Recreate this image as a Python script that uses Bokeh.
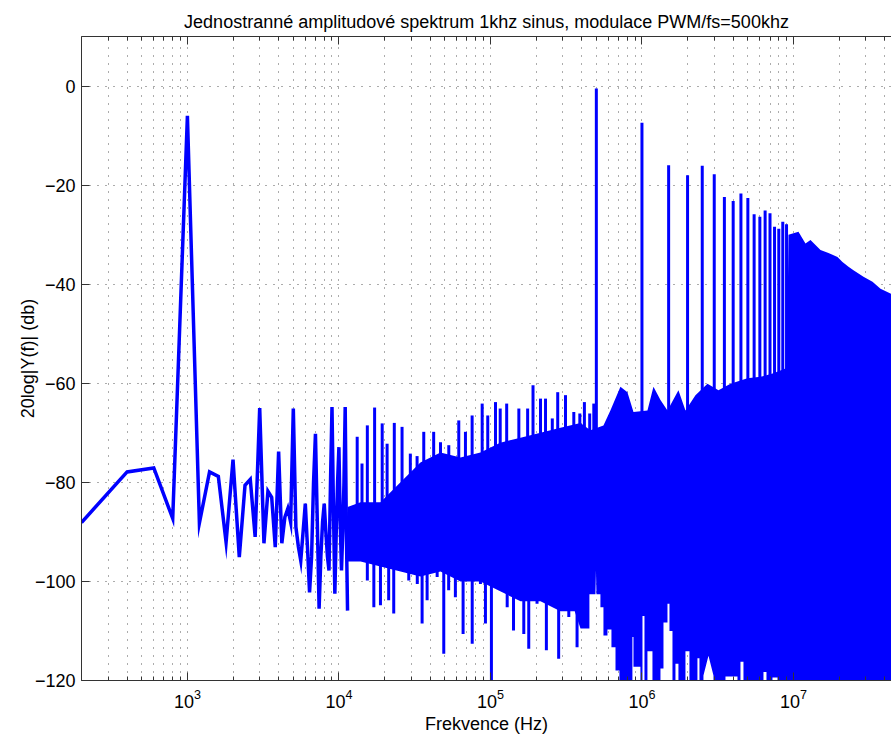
from bokeh.plotting import figure
from bokeh.models import Range1d, LinearAxis, FixedTicker, SingleIntervalTicker
from bokeh.embed import file_html
from bokeh.resources import INLINE

TITLE = "Jednostranné amplitudové spektrum 1khz sinus, modulace PWM/fs=500khz"
XLABEL = "Frekvence (Hz)"
YLABEL = "20log|Y(f)| (db)"

# low-frequency part of the spectrum (individual FFT bins, Hz / dB)
f_low = [200, 400, 600, 800, 1000, 1200, 1400, 1600, 1800, 2000,
         2200, 2400, 2600, 2800, 3000, 3200, 3400, 3600, 3800, 4000,
         4200, 4400, 4600, 4800, 5000, 5200, 5400, 5600, 5800, 6000,
         6200, 6400, 6600, 6800, 7000, 7200, 7400, 7600, 7800, 8000,
         8200, 8400, 8600, 8800, 9000, 9200, 9400, 9600, 9800, 10000,
         10200, 10400, 10600, 10800, 11000, 11200, 11400]
db_low = [-88.1, -77.9, -77.1, -87.3, -6.0, -88.2, -77.9, -78.8, -92.1, -75.4,
          -95.1, -80.6, -79.4, -91.0, -65.0, -92.3, -81.8, -83.0, -93.1, -73.8,
          -92.3, -87.0, -85.3, -88.0, -65.1, -89.0, -93.0, -95.8, -90.0, -84.3,
          -93.0, -102.2, -95.0, -80.0, -70.2, -88.0, -105.5, -95.0, -88.0, -84.3,
          -90.0, -95.0, -97.8, -80.0, -64.8, -85.0, -102.5, -90.0, -80.0, -72.9,
          -88.0, -97.8, -90.0, -80.0, -64.8, -90.0, -105.9]

# dense part: upper envelope of the densely packed bins
f_top = [11400, 13900, 18800, 25500, 34500, 46800, 63400, 85900, 116000, 158000,
         214000, 290000, 393000, 457000, 557000, 619000, 721000, 802000, 879000, 1087000,
         1191000, 1325000, 1474000, 1741000, 1937000, 2255000, 2706000, 3199000, 3839000, 4971000,
         6057000, 7379000, 8856000, 9062000, 9268000, 10790000, 12000000, 12950000, 15080000, 17020000,
         19520000, 21060000, 23070000, 24890000, 28970000, 33230000, 37530000, 44360000]
db_top = [-85, -84, -84, -80, -76, -74, -75, -74, -72, -71,
          -70, -69, -68, -69.5, -68.5, -65.5, -60.7, -61.8, -65.8, -65.5,
          -60.7, -63.4, -65.5, -61.4, -65.5, -62.4, -60.1, -61.4, -60.1, -59,
          -58.7, -58, -57, -57, -30, -29.4, -31.8, -31.1, -33.1, -33.7,
          -34.5, -35.5, -36.5, -37.2, -38.5, -39.5, -40.9, -42]

# dense part: lower envelope (white pockets above the -120 floor)
f_bot = [11400, 13900, 18800, 25500, 34500, 46800, 63400, 85900, 116000, 158000,
         214000, 290000, 360000, 393000, 450000, 450000, 493000, 497000, 501000, 532000,
         532000, 557000, 557000, 592000, 592000, 629000, 629000, 669000, 669000, 710000,
         710000, 865000, 865000, 879000, 879000, 977000, 977000, 1008000, 1008000, 1039000,
         1039000, 1087000, 1087000, 1173000, 1173000, 1325000, 1325000, 1387000, 1387000, 1474000,
         1474000, 1519000, 1519000, 1590000, 1590000, 1664000, 1664000, 1741000, 1741000, 1937000,
         1937000, 2058000, 2058000, 2324000, 2324000, 2396000, 2396000, 2546000, 2546000, 2748000,
         2965000, 2965000, 3558000, 3558000, 4270000, 4270000, 4469000, 4469000, 4677000, 4677000,
         6339000, 6339000, 6635000, 6635000, 7268000, 7268000, 7843000, 7843000, 44360000]
db_bot = [-96, -96, -97, -98, -99, -98, -100, -100, -102, -104,
          -104, -106, -106, -109.5, -109.5, -102.6, -102.6, -97.8, -102.6, -102.6,
          -105.2, -105.2, -110.9, -110.9, -109.7, -109.7, -113.3, -113.3, -118, -118,
          -120, -120, -111.2, -111.2, -117.2, -117.2, -120, -120, -107, -107,
          -120, -120, -114.1, -114.1, -120, -120, -117.6, -117.6, -108.3, -108.3,
          -104.5, -104.5, -110, -110, -120, -120, -116.6, -116.6, -120, -120,
          -114.1, -114.1, -120, -120, -115.5, -115.5, -120, -120, -119, -115,
          -119, -120, -120, -119.2, -119.2, -120, -120, -116.2, -116.2, -120,
          -120, -118.3, -118.3, -120, -120, -119.4, -119.4, -120, -120]

# isolated upward peaks in the dense part
f_peaks = [13200, 14200, 15400, 17200, 19300, 20800, 23200, 26100, 29600, 32800,
           36300, 42200, 46800, 53100, 61800, 68400, 75700, 88200, 96000, 108000,
           116000, 128000, 139000, 154000, 176000, 191000, 214000, 231000, 256000, 278000,
           313000, 355000, 389000, 417000, 452000, 481000]
db_peaks = [-70.8, -76.2, -68.5, -64.9, -68.1, -72.2, -68.0, -68.8, -74.2, -74.7,
            -69.8, -69.8, -71.9, -72.5, -67.5, -69.8, -66.5, -64.1, -66.5, -63.8,
            -65.1, -64.1, -71.5, -65.1, -65.1, -60.4, -63.1, -63.1, -67.1, -61.8,
            -62.4, -65.8, -66.1, -63.8, -66.1, -64.1]

# isolated downward dips in the dense part
f_dips = [13100, 15400, 17000, 18800, 21300, 23000, 26100, 28900, 32900, 35400,
          38200, 44500, 49200, 53000, 58700, 66000, 75800, 85900, 92700, 101500,
          113000, 129000, 142000, 166000, 179000, 203000, 234000, 282000, 329000, 373000]
db_dips = [-95.8, -99.8, -105.2, -104.8, -103.8, -106.5, -96.8, -99.8, -100.5, -108.5,
           -103.8, -99.1, -114.6, -101.8, -103.2, -110.6, -112.6, -100.5, -108.5, -120,
           -101.1, -105.2, -109.9, -110.6, -113.6, -104.5, -113.9, -115.6, -107.2, -113.3]

# PWM carrier harmonics
f_harm = [500000, 1000000, 1500000, 2000000, 2500000, 3000000, 3500000, 4000000, 4500000,
          5000000, 5500000, 6000000, 6500000, 7000000, 7500000, 8000000, 8500000, 9000000]
db_harm = [-0.5, -7.4, -16.0, -18.0, -16.1, -17.8, -22.4, -23.2, -21.7,
           -22.6, -25.9, -26.4, -25.1, -25.7, -28.4, -28.8, -27.4, -27.9]

x_major = [1e3, 1e4, 1e5, 1e6, 1e7]
X_MIN, X_MAX = 200, 44360000
Y_MIN, Y_MAX = -120, 10

BLUE = "#0000ff"
FONT = "Liberation Sans"
FS = "18px"
MID_UP = -94     # lower edge of the upper fill (overlaps the lower fill)
MID_DOWN = -86   # upper edge of the lower fill
BASE = -90       # foot of the spike segments

p = figure(width=891, height=736, x_axis_type="log",
           x_range=Range1d(X_MIN, X_MAX), y_range=Range1d(Y_MIN, Y_MAX),
           output_backend="svg", toolbar_location=None,
           min_border_left=81, min_border_right=0, min_border_top=36, min_border_bottom=56)

p.title.text = TITLE
p.title.align = "center"
p.title.text_font = FONT
p.title.text_font_size = FS
p.title.text_font_style = "normal"
p.title.text_color = "#000000"

minor = [m * 10 ** k for k in range(2, 8) for m in range(2, 10)]

def style_x(ax, labels=True):
    ax.ticker = FixedTicker(ticks=x_major, minor_ticks=minor)
    ax.major_tick_in = 8
    ax.major_tick_out = 0
    ax.minor_tick_in = 4
    ax.minor_tick_out = 0
    ax.axis_line_color = "#333333"
    ax.major_tick_line_color = "#333333"
    ax.minor_tick_line_color = "#333333"
    ax.major_label_text_font = FONT
    if labels:
        ax.major_label_text_font_size = FS
        ax.major_label_text_color = "#000000"
        ax.major_label_standoff = 8
    else:
        ax.major_label_text_font_size = "1px"
        ax.major_label_text_alpha = 0
        ax.major_label_standoff = 0

xa = p.xaxis[0]
style_x(xa)
xa.axis_label = XLABEL
xa.axis_label_text_font = FONT
xa.axis_label_text_font_size = FS
xa.axis_label_text_font_style = "normal"
xa.axis_label_text_color = "#000000"
xa.axis_label_standoff = 3

top = LinearAxis()
style_x(top, labels=False)
p.add_layout(top, "above")

ya = p.yaxis[0]
ya.ticker = SingleIntervalTicker(interval=20, num_minor_ticks=0)
ya.major_tick_in = 8
ya.major_tick_out = 0
ya.minor_tick_line_color = None
ya.axis_line_color = "#333333"
ya.major_tick_line_color = "#333333"
ya.major_label_text_font = FONT
ya.major_label_text_font_size = FS
ya.major_label_text_color = "#000000"
ya.major_label_standoff = 6
ya.axis_label = YLABEL
ya.axis_label_text_font = FONT
ya.axis_label_text_font_size = FS
ya.axis_label_text_font_style = "normal"
ya.axis_label_text_color = "#000000"
ya.axis_label_standoff = -6

p.outline_line_color = None
for g in (p.xgrid, p.ygrid):
    g.grid_line_color = "#222222"
    g.grid_line_alpha = 0.75
    g.grid_line_dash = "1 7"
p.xgrid.ticker = FixedTicker(ticks=x_major, minor_ticks=minor)
p.xgrid.minor_grid_line_color = "#222222"
p.xgrid.minor_grid_line_alpha = 0.75
p.xgrid.minor_grid_line_dash = "1 7"

# dense band
p.varea(x=f_top, y1=db_top, y2=[MID_UP] * len(f_top), color=BLUE)
p.varea(x=f_bot, y1=[MID_DOWN] * len(f_bot), y2=db_bot, color=BLUE)
# peaks, dips, harmonics
p.segment(x0=f_peaks, y0=[BASE] * len(f_peaks), x1=f_peaks, y1=db_peaks, line_width=3, color=BLUE)
p.segment(x0=f_dips, y0=[BASE] * len(f_dips), x1=f_dips, y1=db_dips, line_width=3, color=BLUE)
p.segment(x0=f_harm, y0=[BASE] * len(f_harm), x1=f_harm, y1=db_harm, line_width=3, color=BLUE)
# low-frequency line
p.line(f_low, db_low, line_width=3.5, color=BLUE, line_join="miter")

open("out.html", "w").write(file_html(p, INLINE))
